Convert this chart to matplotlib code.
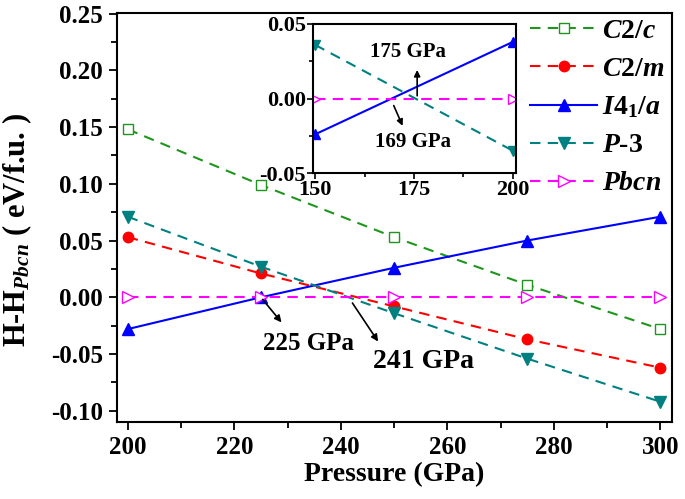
import numpy as np
from matplotlib import pyplot as plt
from matplotlib.ticker import MultipleLocator, FormatStrFormatter

plt.rcParams['font.family'] = 'Liberation Serif'
plt.rcParams['font.weight'] = 'bold'
plt.rcParams['mathtext.fontset'] = 'custom'
plt.rcParams['mathtext.rm'] = 'Liberation Serif:bold'
plt.rcParams['mathtext.it'] = 'Liberation Serif:italic:bold'
plt.rcParams['mathtext.bf'] = 'Liberation Serif:bold'
plt.rcParams['axes.unicode_minus'] = False

# main panel data (eV/f.u. relative to Pbcn)
pressure = [200, 225, 250, 275, 300]
c2c = [0.148, 0.099, 0.053, 0.011, -0.028]
c2m = [0.053, 0.021, -0.008, -0.037, -0.062]
i41a = [-0.028, 0.000, 0.026, 0.050, 0.071]
p3 = [0.071, 0.027, -0.014, -0.054, -0.092]
pbcn = [0.0, 0.0, 0.0, 0.0, 0.0]

# inset data
p_in = [150, 200]
i41a_in = [-0.024, 0.038]
p3_in = [0.036, -0.035]
pbcn_in = [0.0, 0.0]

labels = [r'$\mathit{C2/c}$', r'$\mathit{C2/m}$', r'$\mathit{I4}_{\mathrm{1}}\mathit{/a}$',
          r'$\mathit{P}$-$\mathit{3}$', r'$\mathit{Pbcn}$']

fig = plt.figure(figsize=(6.85, 4.99), dpi=100)
ax = fig.add_axes([0.171, 0.154, 0.81, 0.82])

lw = 1.5
ds = (5, 3.5)
ax.plot(pressure, c2c, ls='--', dashes=ds, c='#1e961e', lw=lw, marker='s', ms=7,
        mfc='white', mec='#1e961e', label=labels[0])
ax.plot(pressure, c2m, ls='--', dashes=ds, c='#ff0000', lw=lw, marker='o', ms=7.5,
        label=labels[1])
ax.plot(pressure, i41a, ls='-', c='#0000ff', lw=lw, marker='^', ms=8, label=labels[2])
ax.plot(pressure, p3, ls='--', dashes=ds, c='#008080', lw=lw, marker='v', ms=8,
        label=labels[3])
ax.plot(pressure, pbcn, ls='--', dashes=ds, c='#ff00ff', lw=lw, marker='>', ms=8,
        mfc='white', mec='#ff00ff', label=labels[4])

ax.set_xlim(198, 302.2)
ax.set_ylim(-0.11, 0.2505)
ax.xaxis.set_major_locator(MultipleLocator(20))
ax.xaxis.set_minor_locator(MultipleLocator(10))
ax.yaxis.set_major_locator(MultipleLocator(0.05))
ax.yaxis.set_minor_locator(MultipleLocator(0.025))
ax.yaxis.set_major_formatter(FormatStrFormatter('%.2f'))
ax.tick_params(which='both', direction='out', labelsize=18, width=1.3, pad=4)
ax.tick_params(which='major', length=6)
ax.tick_params(which='minor', length=4)
for s in ax.spines.values():
    s.set_linewidth(1.5)

ax.set_xlabel('Pressure (GPa)', fontsize=20, fontweight='bold', labelpad=2)
ax.set_ylabel(r'H-H$_{Pbcn}$ ( eV/f.u. )', fontsize=22, fontweight='bold')
ax.yaxis.set_label_coords(-0.15, 0.47)

ax.annotate('', xy=(229.2, -0.024), xytext=(225, 0.0),
            arrowprops=dict(arrowstyle='-|>', color='k', lw=1.2, mutation_scale=10))
ax.text(234, -0.041, '225 GPa', ha='center', va='center', fontsize=18, fontweight='bold')
ax.annotate('', xy=(247.3, -0.041), xytext=(241.9, -0.003),
            arrowprops=dict(arrowstyle='-|>', color='k', lw=1.2, mutation_scale=10))
ax.text(255.6, -0.057, '241 GPa', ha='center', va='center', fontsize=20, fontweight='bold')

ax.legend(loc='upper right', bbox_to_anchor=(1.012, 1.02), frameon=False, fontsize=20,
          handlelength=2.4, handletextpad=0.2, labelspacing=0.45, borderaxespad=0.1)

# inset
axi = fig.add_axes([0.4565, 0.653, 0.2975, 0.299])
axi.plot(p_in, i41a_in, ls='-', c='#0000ff', lw=lw, marker='^', ms=7)
axi.plot(p_in, p3_in, ls='--', dashes=ds, c='#008080', lw=lw, marker='v', ms=7)
axi.plot(p_in, pbcn_in, ls='--', dashes=ds, c='#ff00ff', lw=lw, marker='>', ms=7,
         mfc='white', mec='#ff00ff')
axi.set_xlim(149.4, 200.9)
axi.set_ylim(-0.05, 0.05)
axi.xaxis.set_major_locator(MultipleLocator(25))
axi.xaxis.set_minor_locator(MultipleLocator(12.5))
axi.yaxis.set_major_locator(MultipleLocator(0.05))
axi.yaxis.set_minor_locator(MultipleLocator(0.025))
axi.yaxis.set_major_formatter(FormatStrFormatter('%.2f'))
axi.tick_params(which='both', direction='out', labelsize=16, width=1.2, pad=1)
axi.tick_params(which='major', length=4)
axi.tick_params(which='minor', length=3)
for s in axi.spines.values():
    s.set_linewidth(1.5)

axi.annotate('', xy=(175.8, 0.021), xytext=(175.8, 0.0),
             arrowprops=dict(arrowstyle='-|>', color='k', lw=1.2, mutation_scale=9))
axi.text(173.5, 0.0315, '175 GPa', ha='center', va='center', fontsize=15, fontweight='bold')
axi.annotate('', xy=(172.4, -0.02), xytext=(169.6, -0.003),
             arrowprops=dict(arrowstyle='-|>', color='k', lw=1.2, mutation_scale=9))
axi.text(174.8, -0.029, '169 GPa', ha='center', va='center', fontsize=15, fontweight='bold')

fig.savefig('out.png', dpi=100)
